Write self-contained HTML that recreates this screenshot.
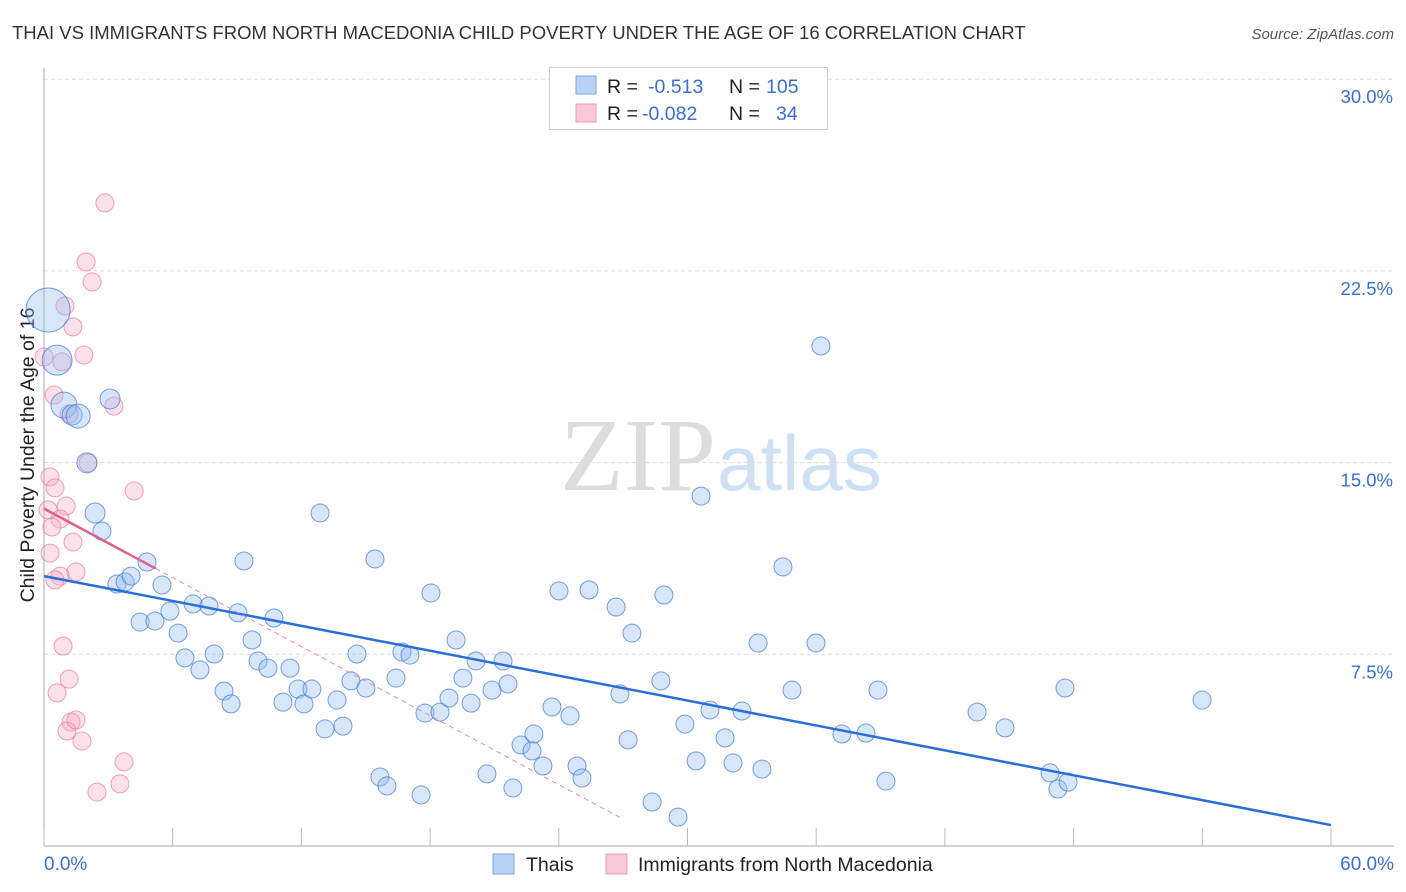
<!DOCTYPE html>
<html><head><meta charset="utf-8"><style>
body{margin:0;background:#fff;font-family:"Liberation Sans",sans-serif;}
#wrap{position:relative;width:1406px;height:892px;overflow:hidden;}
</style></head><body>
<div id="wrap">
<svg id="svg" width="1406" height="892" xmlns="http://www.w3.org/2000/svg">
<text x="12" y="39" font-size="18.5" fill="#333">THAI VS IMMIGRANTS FROM NORTH MACEDONIA CHILD POVERTY UNDER THE AGE OF 16 CORRELATION CHART</text>
<text x="1394" y="39" font-size="15" fill="#555" font-style="italic" text-anchor="end">Source: ZipAtlas.com</text>
<text x="716" y="490" font-size="104" fill="#ddd" font-family="Liberation Serif,serif" text-anchor="end">ZIP</text>
<text x="717" y="490" font-size="78" fill="#cfe0f3">atlas</text>
<text transform="translate(34,455) rotate(-90)" font-size="19.5" fill="#222" text-anchor="middle">Child Poverty Under the Age of 16</text>
<g id="grid"></g><g id="marks"></g><g id="lines"></g>
<text x="44" y="870" font-size="19" fill="#3a6fd0">0.0%</text>
<text x="1394" y="870" font-size="19" fill="#3a6fd0" text-anchor="end">60.0%</text>
<g>
<rect x="549.5" y="67.5" width="278" height="62" fill="#fff" stroke="#ccc"/>
<rect x="576" y="76" width="20" height="18" fill="#b8d3f5" stroke="#7aa6e6"/>
<rect x="576" y="104" width="20" height="18" fill="#fbc8d8" stroke="#ef9ab5"/>
<text x="607" y="93" font-size="19.5" fill="#222">R = </text><text x="648" y="93" font-size="19.5" fill="#3a6fd0">-0.513</text>
<text x="729" y="93" font-size="19.5" fill="#222">N = </text><text x="766" y="93" font-size="19.5" fill="#3a6fd0">105</text>
<text x="607" y="120" font-size="19.5" fill="#222">R = </text><text x="642" y="120" font-size="19.5" fill="#3a6fd0">-0.082</text>
<text x="729" y="120" font-size="19.5" fill="#222">N = </text><text x="776" y="120" font-size="19.5" fill="#3a6fd0">34</text>
</g>
<g><rect x="493" y="854" width="21" height="20" fill="#b8d3f5" stroke="#7aa6e6"/><text x="526" y="871" font-size="19.5" fill="#222">Thais</text></g>
<g><rect x="606" y="854" width="21" height="20" fill="#fbc8d8" stroke="#ef9ab5"/><text x="638" y="871" font-size="19.5" fill="#222">Immigrants from North Macedonia</text></g>
</svg></div>
<script>
const yTicks=[7.5,15,22.5,30];
const yTickLabels=["7.5%","15.0%","22.5%","30.0%"];
const xTicks=[0,6,12,18,24,30,36,42,48,54,60];
const thaiX=[0.19,0.61,0.93,1.31,1.59,3.08,2.00,2.38,2.70,4.80,3.40,3.78,4.06,5.50,4.48,5.17,5.87,6.25,6.95,7.69,9.04,10.72,6.57,7.27,7.93,9.70,9.32,8.39,8.72,9.98,10.44,11.47,11.14,11.84,12.12,12.49,12.87,13.66,13.10,13.94,14.31,14.59,15.01,15.43,15.66,15.99,16.41,16.69,17.06,17.58,17.76,18.46,18.04,19.21,18.88,19.53,19.91,20.14,20.65,20.89,21.40,21.63,21.86,22.24,22.84,22.75,23.26,23.68,24.01,24.52,24.85,25.08,25.41,26.67,26.85,27.23,27.41,28.35,28.76,28.90,29.56,29.88,30.40,30.63,31.05,31.75,32.12,32.54,33.29,33.47,34.45,34.87,35.99,36.22,37.20,38.32,38.88,39.25,43.50,44.80,46.90,47.27,47.74,47.60,53.99];
const thaiY=[20.97,19.01,17.25,16.86,16.82,17.49,14.99,13.03,12.32,11.11,10.25,10.33,10.56,10.21,8.76,8.80,9.19,8.33,9.47,9.39,9.12,8.92,7.36,6.89,7.51,8.06,11.15,6.06,5.56,7.24,6.96,6.96,5.63,6.14,5.56,6.14,13.03,5.71,4.58,4.69,6.46,7.51,6.18,11.23,2.70,2.35,6.57,7.59,7.47,2.00,5.20,5.24,9.90,8.06,5.79,6.57,5.59,7.24,2.82,6.10,7.24,6.34,2.27,3.95,4.38,3.72,3.13,5.44,9.98,5.09,3.13,2.66,10.02,9.35,5.95,4.15,8.33,1.72,6.46,9.82,1.13,4.77,3.33,13.69,5.32,4.23,3.25,5.28,7.94,3.01,10.92,6.10,7.94,19.56,4.38,4.42,6.10,2.54,5.24,4.62,2.86,2.23,2.50,6.18,5.71];
const thaiSize=[22,15,13,10,12,10,10,10,9,9,9,9,9];
const macX=[2.84,1.96,2.24,0.98,1.35,1.86,0.00,0.84,0.47,3.26,1.17,2.05,4.20,0.28,0.51,1.03,0.19,0.75,0.37,1.35,0.28,1.49,0.75,0.51,0.89,1.17,0.61,1.26,1.07,1.49,1.77,3.73,3.54,2.47];
const macY=[25.16,22.85,22.07,21.13,20.31,19.21,19.13,18.94,17.64,17.21,16.90,14.99,13.89,14.44,14.01,13.30,13.15,12.79,12.48,11.89,11.46,10.72,10.56,10.41,7.82,6.53,5.99,4.85,4.50,4.93,4.11,3.29,2.43,2.11];
const thaiTrend=[10.56,0.82];
const macTrend=[13.2,-0.45,5.2,27.0];
const NS="http://www.w3.org/2000/svg";
const X=v=>44+v*21.45, Y=v=>846-v*25.56;
function mk(t,a,p){const e=document.createElementNS(NS,t);for(const k in a)e.setAttribute(k,a[k]);p.appendChild(e);return e;}
const grid=document.getElementById('grid'),marks=document.getElementById('marks'),lines=document.getElementById('lines');
yTicks.forEach((t,i)=>{
 const l=mk('line',{x1:44,x2:1394,y1:Y(t),y2:Y(t),stroke:'#ddd','stroke-dasharray':'4,3'},grid);
 
 
 const tx=mk('text',{x:1393,y:Y(t)+24,'font-size':18.5,fill:'#3a6fd0','text-anchor':'end'},grid);
 tx.textContent=yTickLabels[i];
 
 
});
const ya=mk('line',{x1:44,x2:44,y1:68,y2:846,stroke:'#aaa'},grid);


const xa=mk('line',{x1:44,x2:1394,y1:846,y2:846,stroke:'#aaa'},grid);


xTicks.forEach(t=>{const l=mk('line',{x1:X(t),x2:X(t),y1:828,y2:846,stroke:'#bbb'},grid);
 
 });
macX.forEach((v,i)=>{const c=mk('circle',{cx:X(v),cy:Y(macY[i]),r:9,fill:'rgba(248,170,195,0.35)',stroke:'rgba(232,120,155,0.7)','stroke-width':1},marks);
 
 });
thaiX.forEach((v,i)=>{const c=mk('circle',{cx:X(v),cy:Y(thaiY[i]),r:thaiSize[i]||9,fill:'rgba(150,190,240,0.38)',stroke:'rgba(60,120,215,0.7)','stroke-width':1},marks);
 
 });
const bl=mk('line',{x1:X(0),y1:Y(thaiTrend[0]),x2:X(60),y2:Y(thaiTrend[1]),stroke:'#2a6fd8','stroke-width':2.5},lines);


const pm=v=>macTrend[0]+macTrend[1]*v;
const pd=mk('line',{x1:X(macTrend[2]),y1:Y(pm(macTrend[2])),x2:X(macTrend[3]),y2:Y(pm(macTrend[3])),stroke:'#e88aa8','stroke-width':1,'stroke-dasharray':'5,4'},lines);


const ps=mk('line',{x1:X(0),y1:Y(pm(0)),x2:X(macTrend[2]),y2:Y(pm(macTrend[2])),stroke:'#e0608a','stroke-width':2.5},lines);


</script>
</body></html>
